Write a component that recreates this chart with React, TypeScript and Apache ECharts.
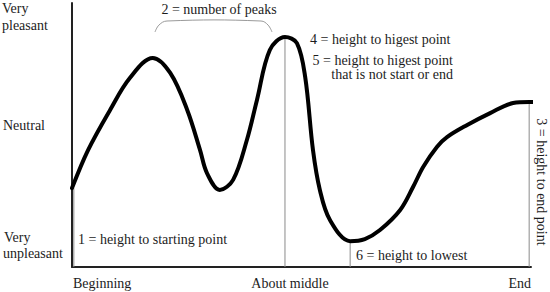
import React, { useEffect, useRef } from "react";
import * as echarts from "echarts";

// Emotional arc: time (0 = beginning, 100 = end) vs. pleasantness (0 = very unpleasant, 100 = very pleasant)
const curveX = [0, 3.5, 8.3, 12.6, 17.6, 21.4, 25.1, 27.9, 29.4, 32.2, 35.1, 38.1, 40.3, 43.1, 46.4, 49.0, 50.8, 52.5, 54.0, 56.2, 60.6, 63.8, 67.1, 71.5, 74.3, 76.5, 79.5, 81.7, 86.1, 91.1, 96.1, 99.6, 101.5];
const curveY = [29.9, 44.3, 59.5, 71.6, 79.2, 73.5, 59.5, 44.3, 35.6, 29.2, 33.0, 48.1, 63.3, 82.2, 87.1, 84.8, 72.0, 44.3, 29.2, 17.8, 9.8, 10.6, 14.0, 21.6, 30.3, 37.9, 45.5, 49.2, 53.8, 58.3, 62.1, 62.5, 62.5];

// Guide lines: starting point, highest point, lowest point, end point
const guideX = [0.4, 46.4, 60.6, 99.6];
const guideY = [29.9, 87.1, 9.8, 62.5];

const yLabels = ["Very\npleasant", "Neutral", "Very\nunpleasant"];
const xLabels = ["Beginning", "About middle", "End"];
const notes = [
  "1 = height to starting point",
  "2 = number of peaks",
  "3 = height to end point",
  "4 = height to higest point",
  "5 = height to higest point",
  "that is not start or end",
  "6 = height to lowest",
];

const FAMILY = "Liberation Serif";
const INK = "#1c1c1c";

export default function App() {
  const ref = useRef<HTMLDivElement>(null);
  useEffect(() => {
    document.body.style.margin = "0";
    if (!ref.current) return;
    const chart = echarts.init(ref.current, null, { renderer: "svg" });

    const txt = (text: string, x: number, y: number, align = "left", extra: any = {}, size = 14) => ({
      type: "text",
      x,
      y,
      ...extra,
      style: {
        text,
        x: 0,
        y: 0,
        fontFamily: FAMILY,
        fontSize: size,
        fill: INK,
        align,
        verticalAlign: "middle",
      },
    });

    const [vp, vp2] = yLabels[0].split("\n");
    const [vu, vu2] = yLabels[2].split("\n");

    const guideSeries = guideX.map((gx, i) => ({
      type: "line",
      data: [
        [gx, 0],
        [gx, guideY[i]],
      ],
      symbol: "none",
      silent: true,
      z: 1,
      lineStyle: { color: "#8a8a8a", width: 1 },
    }));

    chart.setOption({
      animation: false,
      grid: { left: 72, top: 3, right: 19, bottom: 25 },
      xAxis: {
        type: "value",
        min: 0,
        max: 100,
        axisLine: { show: true, onZero: false, lineStyle: { color: "#222", width: 2 } },
        axisTick: { show: false },
        axisLabel: { show: false },
        splitLine: { show: false },
      },
      yAxis: {
        type: "value",
        min: 0,
        max: 100,
        axisLine: { show: true, lineStyle: { color: "#222", width: 2 } },
        axisTick: { show: false },
        axisLabel: { show: false },
        splitLine: { show: false },
      },
      series: [
        ...guideSeries,
        {
          type: "line",
          data: curveX.map((x, i) => [x, curveY[i]]),
          smooth: 0.35,
          symbol: "none",
          clip: false,
          z: 3,
          lineStyle: { color: "#000", width: 4, cap: "round", join: "round" },
        },
      ],
      graphic: [
        txt(vp, 2, 8),
        txt(vp2, 2, 25),
        txt(yLabels[1], 3, 125),
        txt(vu, 4, 237),
        txt(vu2, 3, 253),
        txt(xLabels[0], 73, 283),
        txt(xLabels[1], 290, 283, "center"),
        txt(xLabels[2], 531, 283, "right"),
        txt(notes[0], 78, 239),
        txt(notes[1], 219, 9, "center"),
        txt(notes[2], 541, 182, "center", { rotation: -Math.PI / 2 }),
        txt(notes[3], 310, 39),
        txt(notes[4], 453, 60, "right"),
        txt(notes[5], 453, 74, "right"),
        txt(notes[6], 356, 255),
        {
          type: "polyline",
          shape: {
            points: [
              [155, 32],
              [159, 25],
              [167, 21],
              [261, 21],
              [268, 25],
              [272, 32],
            ],
            smooth: 0.4,
          },
          style: { stroke: "#9a9a9a", lineWidth: 1, fill: null },
        },
      ],
    });
    return () => chart.dispose();
  }, []);
  return <div ref={ref} style={{ width: 550, height: 292 }} />;
}
